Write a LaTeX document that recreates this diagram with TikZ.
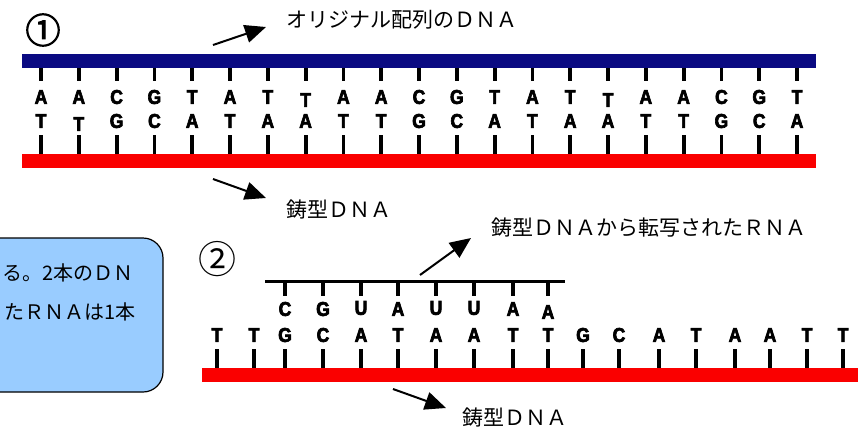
\documentclass[tikz,border=0pt]{standalone}
\usepackage{fontspec}
\setmainfont{Noto Sans CJK JP}
\newfontfamily\dnafont{Liberation Sans Bold}[FakeBold=3.2,FakeStretch=0.88]
\newfontfamily\circfont{Noto Sans CJK JP}[FakeBold=3]
\usetikzlibrary{arrows.meta}
\definecolor{barblue}{RGB}{10,10,130}
\definecolor{barred}{RGB}{250,0,0}
\definecolor{calloutfill}{RGB}{153,204,255}
\begin{document}
\begin{tikzpicture}[x=1pt,y=-1pt,
  dnaletter/.style={font=\dnafont\fontsize{20}{20}\selectfont, inner sep=0pt},
  tick/.style={line width=3.8pt, black},
  caption/.style={font=\fontsize{21}{21}\selectfont, inner sep=0pt, anchor=west},
  boxtext/.style={font=\fontsize{20}{20}\selectfont, inner sep=0pt, anchor=east},
  pointer/.style={line width=2pt, -{Triangle[length=21pt,width=18pt]}},
  circnum/.style={inner sep=0pt},
  ]
\path[use as bounding box] (0,0) rectangle (858,432);

% ---------- diagram 1 ----------
\node[circnum, font=\circfont\fontsize{35}{35}\selectfont] (n1) at (43,30) {①};
\fill[barblue] (22,54) rectangle (816,68);
\fill[barred] (22,154) rectangle (816,168);
\foreach \t/\dy [count=\i from 0] in {A/0,A/0,C/0,G/0,T/0,A/0,T/0,T/3,A/0,A/0,C/0,G/0,T/0,A/0,T/0,T/3,A/0,A/0,C/0,G/0,T/0} {
  \pgfmathsetmacro\xx{41+37.8*\i}
  \draw[tick] (\xx,68) -- (\xx,81);
  \node[dnaletter] (p\i) at (\xx,97+\dy) {\t};
}
\foreach \t/\dy [count=\i from 0] in {T/0,T/3,G/0,C/0,A/0,T/0,A/0,A/0,T/0,T/0,G/0,C/0,A/0,T/0,A/0,A/0,T/0,T/0,G/0,C/0,A/0} {
  \pgfmathsetmacro\xx{41+37.8*\i}
  \draw[tick] (\xx,135) -- (\xx,154);
  \node[dnaletter] (q\i) at (\xx,121+\dy) {\t};
}
\node[caption] (lab1) at (286,20) {オリジナル配列のＤＮＡ};
\node[caption] (lab2) at (286,210) {鋳型ＤＮＡ};
\coordinate (a1s) at (213,45);  \coordinate (a1e) at (266,27);
\coordinate (a2s) at (213,179); \coordinate (a2e) at (266,198);
\draw[pointer] (a1s) -- (a1e);
\draw[pointer] (a2s) -- (a2e);

% ---------- callout ----------
\begin{scope}
\clip (0,0) rectangle (858,432);
\node[draw=black, line width=1.2pt, fill=calloutfill, rounded corners=20pt,
      minimum width=193pt, minimum height=154pt, inner sep=0pt] (box) at (66.5,315) {};
\node[boxtext] (bt1) at (134,273) {る。2本のＤＮ};
\node[boxtext] (bt2) at (136,312) {たＲＮＡは1本};
\end{scope}

% ---------- diagram 2 ----------
\node[circnum, font=\fontsize{38}{38}\selectfont] (n2) at (217,259) {②};
\fill[black] (265,279.5) rectangle (565,282.5);
\fill[barred] (202,368) rectangle (858,382);
\foreach \x/\t [count=\i] in {217/T,254/T,285/G,323/C,361/A,398/T,436/A,474/A,513/T,548/T,583/G,619/C,659/A,696/T,735/A,770/A,807/T,843/T} {
  \draw[tick] (\x,349) -- (\x,368);
  \node[dnaletter] (s\i) at (\x,335) {\t};
}
\foreach \x/\t/\dy [count=\i] in {285/C/0,323/G/0,361/U/-1,398/A/0,436/U/-1,474/U/-1,513/A/0,548/A/3} {
  \draw[tick] (\x,281) -- (\x,296);
  \node[dnaletter] (r\i) at (\x,309+\dy) {\t};
}
\node[caption] (lab3) at (491,228) {鋳型ＤＮＡから転写されたＲＮＡ};
\node[caption] (lab4) at (462,417) {鋳型ＤＮＡ};
\coordinate (a3s) at (420,275); \coordinate (a3e) at (471,238);
\coordinate (a4s) at (393,389); \coordinate (a4e) at (446,408);
\draw[pointer] (a3s) -- (a3e);
\draw[pointer] (a4s) -- (a4e);
\end{tikzpicture}
\end{document}
